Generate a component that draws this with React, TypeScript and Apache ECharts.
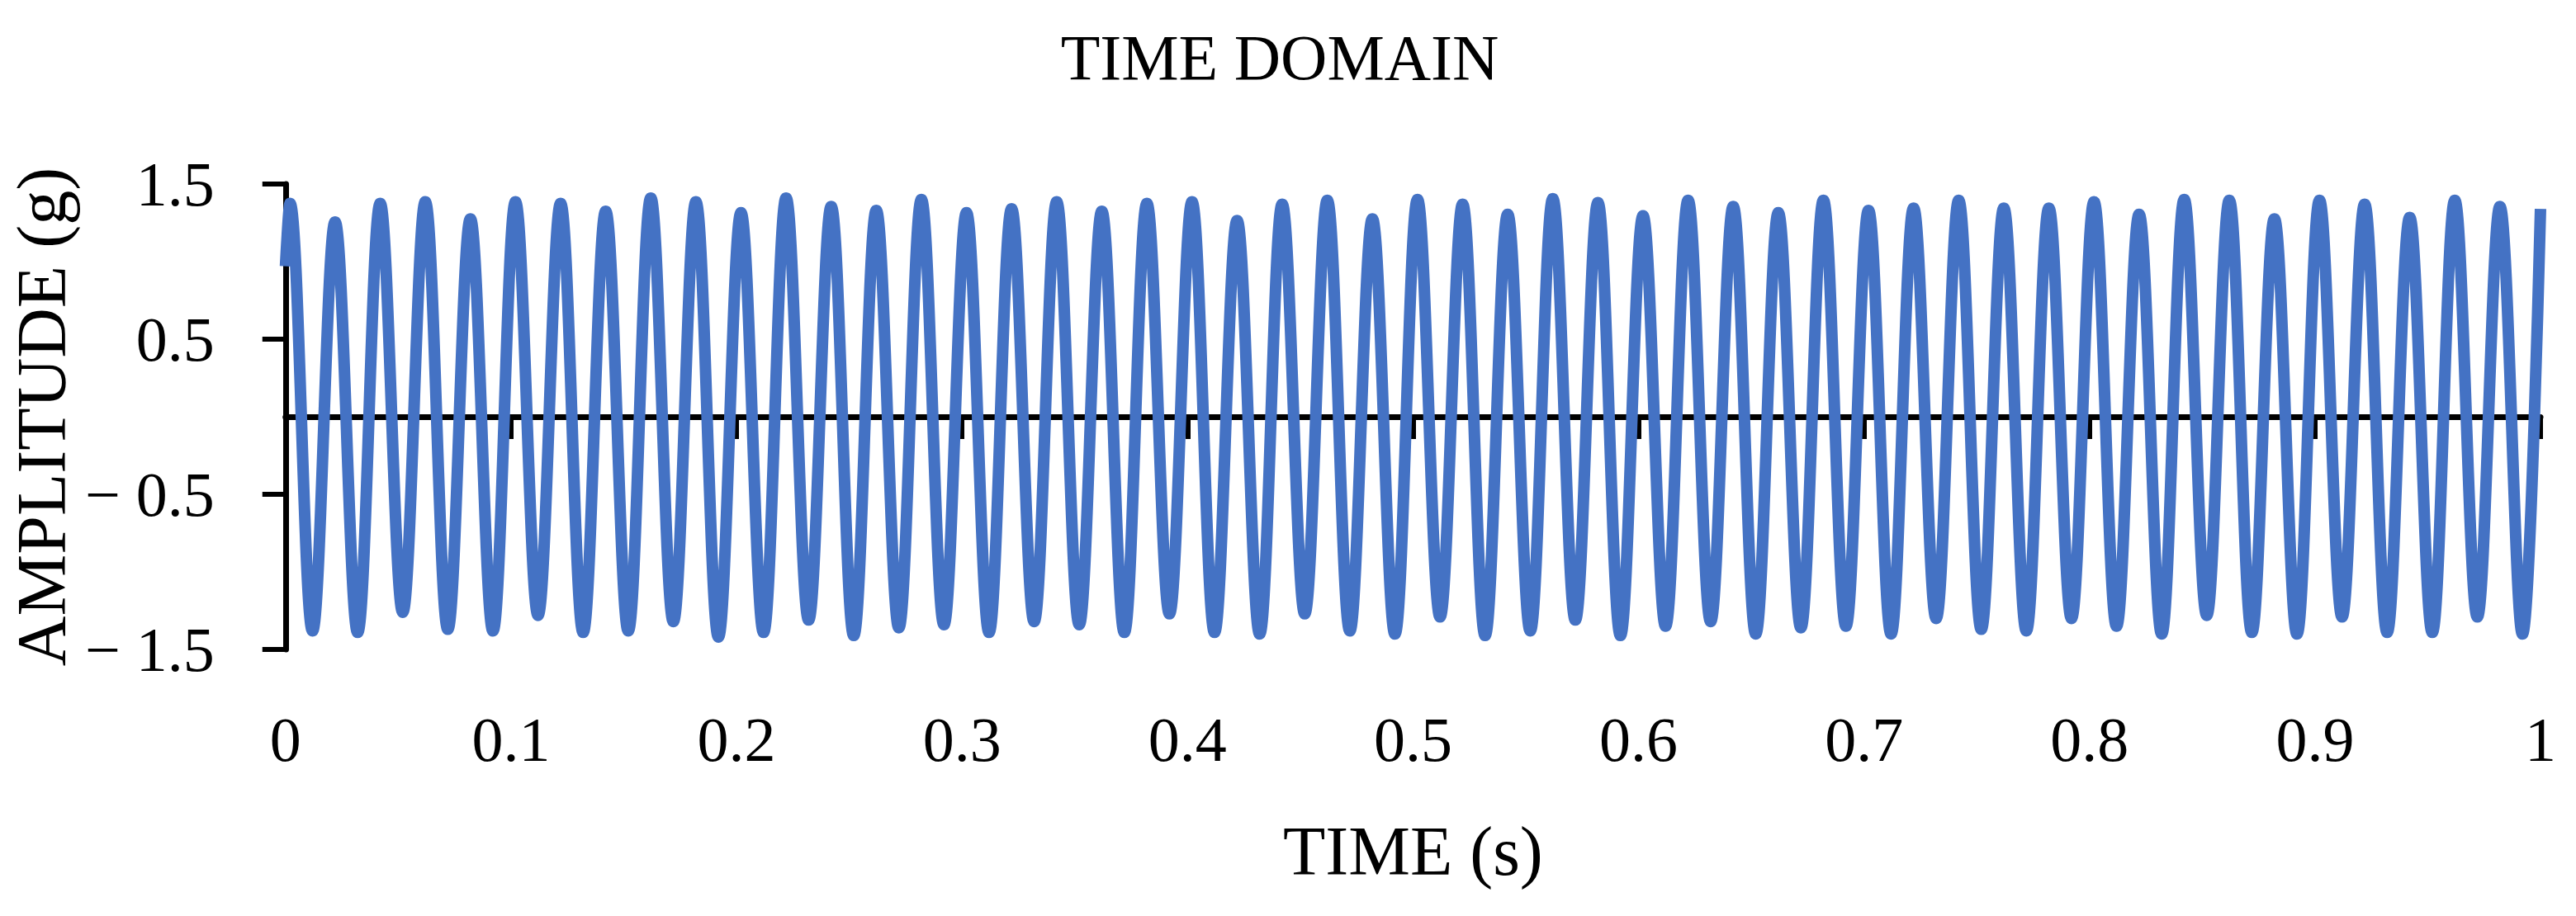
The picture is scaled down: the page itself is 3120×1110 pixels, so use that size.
import React, { useEffect, useRef } from "react";
import * as echarts from "echarts";

const FONT = "'Liberation Serif', 'Times New Roman', serif";

const titleText = "TIME DOMAIN";
const xAxisTitle = "TIME (s)";
const yAxisTitle = "AMPLITUDE (g)";

// time axis ticks (s)
const xMin = 0;
const xMax = 1;
const xInterval = 0.1;
// amplitude axis ticks (g)
const yMin = -1.5;
const yMax = 1.5;
const yInterval = 1;

// first and last samples of the trace
const startPoint = [0, 0.97];
const endPoint = [1, 1.34];

// times of each positive peak (s)
const peakTimes = [
  0.002, 0.022, 0.042, 0.062, 0.082, 0.102, 0.122, 0.142, 0.162, 0.182,
  0.202, 0.222, 0.242, 0.262, 0.282, 0.302, 0.322, 0.342, 0.362, 0.382,
  0.402, 0.422, 0.442, 0.462, 0.482, 0.502, 0.522, 0.542, 0.562, 0.582,
  0.602, 0.622, 0.642, 0.662, 0.682, 0.702, 0.722, 0.742, 0.762, 0.782,
  0.802, 0.822, 0.842, 0.862, 0.882, 0.902, 0.922, 0.942, 0.962, 0.982,
];
// amplitude of each positive peak (g)
const peakValues = [
  1.375, 1.255, 1.375, 1.385, 1.275, 1.385, 1.375, 1.325, 1.41, 1.385,
  1.315, 1.41, 1.355, 1.33, 1.4, 1.315, 1.34, 1.385, 1.325, 1.375,
  1.385, 1.265, 1.37, 1.395, 1.275, 1.4, 1.37, 1.305, 1.405, 1.38,
  1.295, 1.395, 1.355, 1.315, 1.395, 1.33, 1.345, 1.395, 1.345, 1.345,
  1.385, 1.305, 1.4, 1.395, 1.275, 1.395, 1.37, 1.285, 1.395, 1.355,
];
// times of each negative peak (s)
const troughTimes = [
  0.012, 0.032, 0.052, 0.072, 0.092, 0.112, 0.132, 0.152, 0.172, 0.192,
  0.212, 0.232, 0.252, 0.272, 0.292, 0.312, 0.332, 0.352, 0.372, 0.392,
  0.412, 0.432, 0.452, 0.472, 0.492, 0.512, 0.532, 0.552, 0.572, 0.592,
  0.612, 0.632, 0.652, 0.672, 0.692, 0.712, 0.732, 0.752, 0.772, 0.792,
  0.812, 0.832, 0.852, 0.872, 0.892, 0.912, 0.932, 0.952, 0.972, 0.992,
];
// amplitude of each negative peak (g)
const troughValues = [
  -1.38, -1.39, -1.26, -1.37, -1.38, -1.28, -1.39, -1.38, -1.32, -1.42,
  -1.39, -1.31, -1.41, -1.36, -1.34, -1.39, -1.32, -1.34, -1.39, -1.27,
  -1.39, -1.4, -1.27, -1.38, -1.4, -1.29, -1.41, -1.38, -1.31, -1.41,
  -1.35, -1.32, -1.4, -1.36, -1.35, -1.4, -1.3, -1.37, -1.38, -1.3,
  -1.35, -1.4, -1.28, -1.39, -1.4, -1.29, -1.39, -1.39, -1.29, -1.4,
];

function buildTrace(): number[][] {
  const pts: number[][] = [startPoint];
  for (let i = 0; i < peakTimes.length; i++) {
    pts.push([peakTimes[i], peakValues[i]]);
    if (i < troughTimes.length) pts.push([troughTimes[i], troughValues[i]]);
  }
  pts.push(endPoint);
  return pts;
}

export default function App() {
  const ref = useRef<HTMLDivElement>(null);

  useEffect(() => {
    if (!ref.current) return;
    const chart = echarts.init(ref.current, null, { renderer: "svg" });
    const axisColor = "#000000";
    chart.setOption({
      animation: false,
      backgroundColor: "#ffffff",
      title: {
        text: titleText,
        left: 1550,
        textAlign: "center",
        top: 30,
        padding: 0,
        textStyle: {
          fontFamily: FONT,
          fontSize: 78,
          fontWeight: "normal",
          color: "#000000",
        },
      },
      grid: {
        left: 343,
        right: 43,
        top: 223,
        bottom: 323,
        containLabel: false,
      },
      xAxis: [
        {
          type: "value",
          min: xMin,
          max: xMax,
          interval: xInterval,
          position: "bottom",
          name: xAxisTitle,
          nameLocation: "middle",
          nameGap: 202,
          nameTextStyle: { fontFamily: FONT, fontSize: 84, color: "#000000" },
          axisLine: { show: false, onZero: false },
          axisTick: { show: false },
          splitLine: { show: false },
          axisLabel: {
            show: true,
            margin: 71,
            fontFamily: FONT,
            fontSize: 76,
            color: "#000000",
          },
        },
        {
          type: "value",
          min: xMin,
          max: xMax,
          interval: xInterval,
          position: "bottom",
          axisLine: {
            show: true,
            onZero: true,
            lineStyle: { color: axisColor, width: 7 },
          },
          axisTick: {
            show: true,
            inside: false,
            length: 27,
            lineStyle: { color: axisColor, width: 6 },
          },
          splitLine: { show: false },
          axisLabel: { show: false },
        },
      ],
      yAxis: {
        type: "value",
        min: yMin,
        max: yMax,
        interval: yInterval,
        name: yAxisTitle,
        nameLocation: "middle",
        nameGap: 236,
        nameTextStyle: { fontFamily: FONT, fontSize: 84, color: "#000000" },
        axisLine: {
          show: true,
          onZero: false,
          lineStyle: { color: axisColor, width: 7 },
        },
        axisTick: {
          show: true,
          inside: false,
          length: 28,
          lineStyle: { color: axisColor, width: 6 },
        },
        splitLine: { show: false },
        axisLabel: {
          margin: 86,
          fontFamily: FONT,
          fontSize: 76,
          color: "#000000",
          formatter: (v: number) =>
            v < 0 ? "\u2212 " + String(Math.abs(v)) : String(v),
        },
      },
      series: [
        {
          type: "line",
          xAxisIndex: 0,
          yAxisIndex: 0,
          data: buildTrace(),
          smooth: 0.364,
          showSymbol: false,
          symbol: "none",
          lineStyle: { color: "#4472C4", width: 14 },
          z: 3,
        },
      ],
    });
    return () => chart.dispose();
  }, []);

  return (
    <div
      ref={ref}
      style={{
        position: "absolute",
        left: 0,
        top: 0,
        width: 3120,
        height: 1110,
        background: "#ffffff",
      }}
    />
  );
}
